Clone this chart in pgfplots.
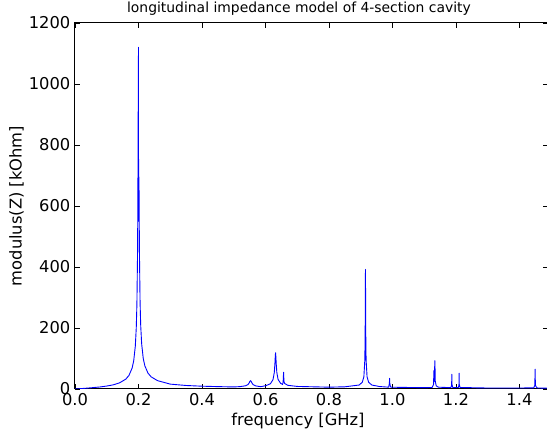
\documentclass[border=0pt]{standalone}
\usepackage{fontspec}
\setmainfont{DejaVu Sans}
\usepackage{pgfplots}
\pgfplotsset{compat=1.18}

\pgfplotstableread{
f Z
0.000 0.0
0.010 0.7
0.030 2.2
0.050 3.9
0.080 6.8
0.100 9.7
0.120 13.5
0.140 20.0
0.160 32.3
0.170 44.5
0.180 68.8
0.185 92.9
0.190 140.6
0.193 200.6
0.195 277
0.197 442
0.198 608
0.199 887
0.1995 1010
0.2000 1120
0.2003 550
0.2006 695
0.2009 552
0.2012 695
0.2016 680
0.202 612
0.203 447
0.205 285
0.207 208
0.210 148
0.215 100
0.220 76
0.230 51.8
0.240 39.7
0.260 27.4
0.300 16.0
0.350 11.5
0.400 9.2
0.450 7.8
0.500 6.8
0.520 7.8
0.537 10.5
0.545 14.5
0.549 20.5
0.551 25.0
0.553 27.5
0.555 25.0
0.557 20.5
0.561 14.5
0.569 10.2
0.585 7.6
0.6018 11.0
0.6158 17.4
0.6238 31.0
0.6278 54.0
0.6298 84.0
0.6308 105.0
0.6318 119.0
0.6328 105.0
0.6338 84.0
0.6358 54.0
0.6398 31.0
0.6478 18.5
0.6538 15.0
0.6555 22.0
0.6565 40.0
0.6570 55.0
0.6575 40.0
0.6585 24.5
0.660 18.5
0.670 12.2
0.700 8.4
0.800 6.0
0.850 7.2
0.895 13.0
0.905 22.0
0.910 40.0
0.913 96
0.914 175
0.9145 276
0.9150 392
0.9155 276
0.916 175
0.917 96
0.920 40.0
0.925 22.0
0.935 13.0
0.960 8.0
0.988 6.0
0.9903 18.0
0.9910 35.0
0.9917 18.0
0.994 6.5
1.000 5.8
1.050 5.0
1.100 4.5
1.125 5.0
1.1295 15.0
1.1305 60.0
1.1315 25.0
1.1337 93.0
1.1350 25.0
1.138 10.0
1.145 6.0
1.180 4.5
1.185 6.0
1.1865 15.0
1.1870 48.0
1.1875 15.0
1.190 5.0
1.208 5.0
1.2095 15.0
1.2100 52.0
1.2105 15.0
1.213 5.0
1.300 3.2
1.445 3.5
1.4485 12.0
1.4494 65.0
1.4503 12.0
1.455 3.5
1.490 2.5
}\impedance

\begin{document}
\begin{tikzpicture}
% fix the page to the reference frame: 75pt left margin, 42pt below, 23pt above
\useasboundingbox (-75pt,-42pt) rectangle (472pt,389pt);
\begin{axis}[
    at={(0,0)}, anchor=south west,
    scale only axis,
    width=473pt, height=366pt,
    xmin=0, xmax=1.49, ymin=0, ymax=1200,
    xtick={0,0.2,0.4,0.6,0.8,1.0,1.2,1.4},
    ytick={0,200,400,600,800,1000,1200},
    minor tick num=0,
    tick align=inside,
    major tick length=5pt,
    tick style={black, line width=0.6pt},
    axis line style={black, line width=1pt},
    /pgf/number format/assume math mode=true,
    ticklabel style={font=\fontsize{16.3}{18}\selectfont},
    xticklabel style={anchor=north, inner sep=0pt, yshift=-4pt,
        /pgf/number format/fixed, /pgf/number format/fixed zerofill,
        /pgf/number format/precision=1},
    yticklabel style={anchor=east, inner sep=0pt, xshift=-4.5pt,
        /pgf/number format/fixed, /pgf/number format/1000 sep={}},
    label style={font=\fontsize{16.3}{18}\selectfont},
    xlabel={frequency [GHz]},
    ylabel={modulus(Z) [kOhm]},
    xlabel style={at={(axis description cs:0.4715,0)}, anchor=base, yshift=-37pt},
    ylabel style={at={(axis description cs:0,0.5)}, anchor=center, yshift=58.5pt},
    title={longitudinal impedance model of 4-section cavity},
    title style={at={(axis description cs:0.4735,1)}, anchor=base, yshift=4pt,
                 font=\fontsize{13.9}{16}\selectfont},
    clip=true,
    ]
\addplot[color={rgb,255:red,0;green,0;blue,255}, line width=0.9pt, line join=round] table[x=f, y=Z] {\impedance};
\end{axis}
\end{tikzpicture}
\end{document}
